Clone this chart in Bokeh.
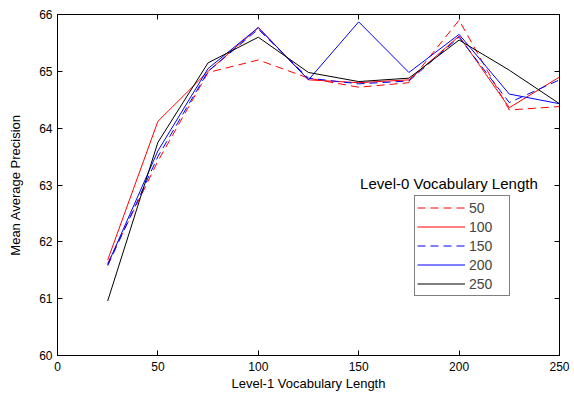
from bokeh.plotting import figure
from bokeh.models import (Range1d, LinearAxis, Legend, LegendItem, Label, FixedTicker,
                          CustomLabelingPolicy)
from bokeh.embed import file_html
from bokeh.resources import INLINE

# Level-1 vocabulary lengths (x)
level1_len = [25, 50, 75, 100, 125, 150, 175, 200, 225, 250]

# Mean Average Precision for each Level-0 vocabulary length
map_50 = [61.62, 63.42, 64.98, 65.20, 64.88, 64.72, 64.80, 65.90, 64.32, 64.38]
map_100 = [61.68, 64.12, 65.00, 65.77, 64.85, 64.80, 64.85, 65.62, 64.36, 64.90]
map_150 = [61.58, 63.50, 65.00, 65.74, 64.88, 64.78, 64.83, 65.60, 64.45, 64.85]
map_200 = [61.60, 63.60, 65.05, 65.77, 64.85, 65.87, 64.98, 65.65, 64.60, 64.43]
map_250 = [60.96, 63.75, 65.15, 65.60, 64.98, 64.82, 64.88, 65.55, 65.02, 64.43]

series_labels = ["50", "100", "150", "200", "250"]
series_values = [map_50, map_100, map_150, map_200, map_250]
series_colors = ["#ff0000", "#ff0000", "#0000ff", "#0000ff", "#000000"]
series_dash = ["8 5", "solid", "8 5", "solid", "solid"]

x_ticks = [0, 50, 100, 150, 200, 250]
y_ticks = [60, 61, 62, 63, 64, 65, 66]

FONT = "Liberation Sans"

p = figure(width=574, height=393, output_backend="svg", toolbar_location=None,
           x_range=Range1d(0, 250), y_range=Range1d(60, 66),
           min_border_left=57, min_border_right=6, min_border_top=14,
           min_border_bottom=38)
p.background_fill_color = "white"
p.border_fill_color = "white"
p.outline_line_color = "black"
p.outline_line_width = 1
p.xgrid.visible = False
p.ygrid.visible = False

for ax, ticks in ((p.xaxis[0], x_ticks), (p.yaxis[0], y_ticks)):
    ax.ticker = FixedTicker(ticks=ticks)
    ax.major_tick_in = 5
    ax.major_tick_out = 0
    ax.minor_tick_line_color = None
    ax.axis_line_color = "black"
    ax.major_tick_line_color = "black"
    ax.major_label_text_font = FONT
    ax.major_label_text_font_size = "12px"
    ax.major_label_text_color = "black"
    ax.axis_label_text_font = FONT
    ax.axis_label_text_font_size = "13px"
    ax.axis_label_text_font_style = "normal"
    ax.axis_label_text_color = "black"

p.xaxis[0].axis_label = "Level-1 Vocabulary Length"
p.xaxis[0].major_label_standoff = 6
p.xaxis[0].axis_label_standoff = 2
p.yaxis[0].axis_label = "Mean Average Precision"
p.yaxis[0].major_label_standoff = 5
p.yaxis[0].axis_label_standoff = 13

hide_labels = "for (let i = 0; i < indices.size; i++) { indices.unset(i) }\nreturn indices"

top_axis = LinearAxis(ticker=FixedTicker(ticks=x_ticks), major_tick_in=5, major_tick_out=0,
                      minor_tick_line_color=None, major_label_standoff=0,
                      major_label_policy=CustomLabelingPolicy(code=hide_labels),
                      axis_line_color="black")
right_axis = LinearAxis(ticker=FixedTicker(ticks=y_ticks), major_tick_in=5, major_tick_out=0,
                        minor_tick_line_color=None, major_label_standoff=0,
                        major_label_policy=CustomLabelingPolicy(code=hide_labels),
                        axis_line_color="black")
p.add_layout(top_axis, "above")
p.add_layout(right_axis, "right")

items = []
for lab, vals, col, dash in zip(series_labels, series_values, series_colors, series_dash):
    r = p.line(level1_len, vals, line_color=col, line_width=1, line_dash=dash)
    items.append(LegendItem(label=lab, renderers=[r]))

legend = Legend(items=items, location=(357, 59), orientation="vertical",
                border_line_color="black", border_line_width=1,
                background_fill_color="white", background_fill_alpha=1.0,
                label_text_font=FONT, label_text_font_size="14px",
                label_height=19, glyph_height=19, glyph_width=48, label_width=38,
                label_standoff=4, spacing=0, padding=2, margin=0)
p.add_layout(legend)

title_label = Label(x=150.7, y=63.03, text="Level-0 Vocabulary Length",
                    text_font=FONT, text_font_size="15px", text_color="black",
                    text_baseline="middle", text_align="left")
p.add_layout(title_label)

open("out.html", "w").write(file_html(p, INLINE))
